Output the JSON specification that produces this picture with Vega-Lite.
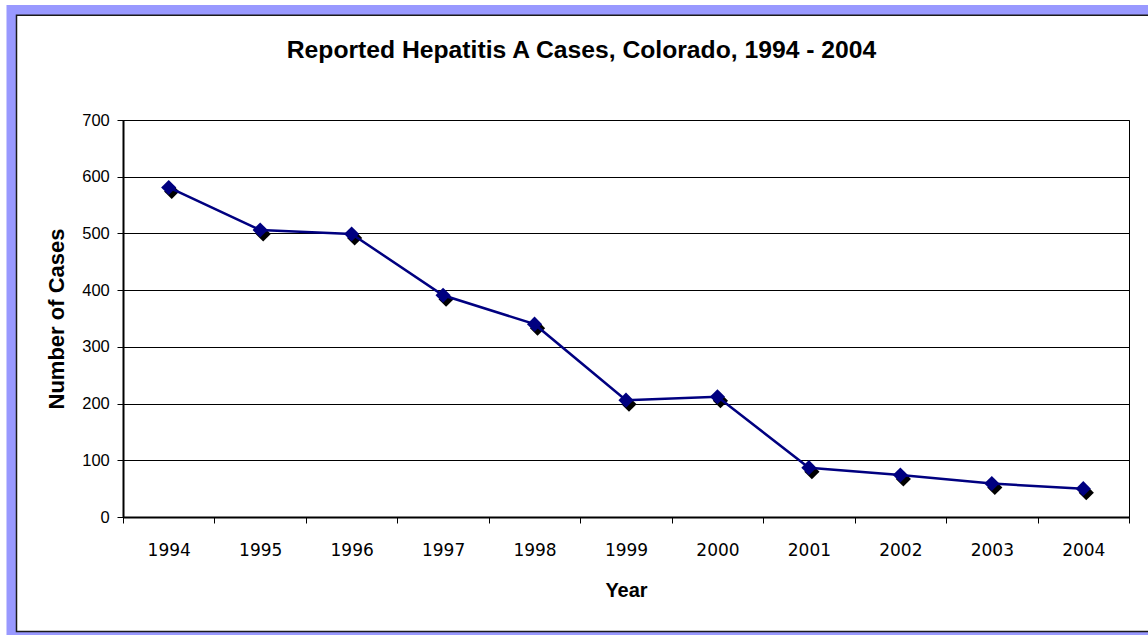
{
  "$schema": "https://vega.github.io/schema/vega-lite/v6.json",
  "width": 1006,
  "height": 397,
  "autosize": {"type": "none"},
  "padding": {"left": 123, "top": 120, "right": 19, "bottom": 118},
  "background": "white",
  "title": {
    "text": "Reported Hepatitis A Cases, Colorado, 1994 - 2004",
    "font": "Liberation Sans",
    "fontSize": 24.7,
    "fontWeight": "bold",
    "color": "black",
    "anchor": "middle",
    "frame": "group",
    "dx": -44.5,
    "offset": -58
  },
  "config": {
    "view": {"stroke": "black", "strokeWidth": 1, "fill": "white"}
  },
  "data": {
    "values": [
      {"year": 1994, "cases": 581},
      {"year": 1995, "cases": 506},
      {"year": 1996, "cases": 499},
      {"year": 1997, "cases": 391},
      {"year": 1998, "cases": 340},
      {"year": 1999, "cases": 206},
      {"year": 2000, "cases": 212},
      {"year": 2001, "cases": 87},
      {"year": 2002, "cases": 74},
      {"year": 2003, "cases": 59},
      {"year": 2004, "cases": 50}
    ]
  },
  "layer": [
    {
      "data": {"values": [{}]},
      "mark": {"type": "rect", "filled": false, "stroke": "#9999FF", "strokeWidth": 10, "clip": false},
      "encoding": {
        "x": {
          "datum": 1992.2808,
          "type": "quantitative",
          "scale": {"domain": [1993.5, 2004.5], "nice": false, "zero": false},
          "axis": {
            "title": "Year",
            "titleFont": "Liberation Sans",
            "titleFontSize": 20,
            "titleFontWeight": "bold",
            "titleColor": "black",
            "titlePadding": 22,
            "values": [1993.5, 1994.5, 1995.5, 1996.5, 1997.5, 1998.5, 1999.5, 2000.5, 2001.5, 2002.5, 2003.5, 2004.5],
            "labelExpr": "datum.value > 2004 ? '' : '' + (datum.value + 0.5)",
            "labelOffset": 45.73,
            "labelFlush": false,
            "labelOverlap": false,
            "labelFont": "DejaVu Sans",
            "labelFontSize": 17,
            "labelColor": "black",
            "labelPadding": 19.3,
            "tickSize": 6,
            "tickColor": "black",
            "tickWidth": 1,
            "domainColor": "black",
            "domainWidth": 2,
            "grid": false
          }
        },
        "x2": {"datum": 2010},
        "y": {
          "datum": 893.96,
          "type": "quantitative",
          "scale": {"domain": [0, 700], "nice": false, "zero": true},
          "axis": {
            "title": "Number of Cases",
            "titleFont": "Liberation Sans",
            "titleFontSize": 22,
            "titleFontWeight": "bold",
            "titleColor": "black",
            "titlePadding": 13,
            "values": [0, 100, 200, 300, 400, 500, 600, 700],
            "labelFont": "Liberation Sans",
            "labelFontSize": 16.5,
            "labelColor": "black",
            "labelPadding": 7.7,
            "tickSize": 6,
            "tickColor": "black",
            "tickWidth": 1,
            "domainColor": "black",
            "domainWidth": 2,
            "grid": true,
            "gridColor": "black",
            "gridWidth": 1
          }
        },
        "y2": {"datum": -211.59}
      }
    },
    {
      "data": {"values": [{}]},
      "mark": {"type": "rect", "filled": false, "stroke": "#1a1a1a", "strokeWidth": 1.5, "clip": false},
      "encoding": {
        "x": {"datum": 1992.3355, "type": "quantitative"},
        "x2": {"datum": 2010},
        "y": {"datum": 884.6, "type": "quantitative"},
        "y2": {"datum": -201.9}
      }
    },
    {
      "mark": {"type": "point", "shape": "diamond", "filled": true, "color": "black", "opacity": 1, "size": 230, "xOffset": 3, "yOffset": 4},
      "encoding": {
        "x": {"field": "year", "type": "quantitative"},
        "y": {"field": "cases", "type": "quantitative"}
      }
    },
    {
      "mark": {"type": "line", "color": "#000080", "strokeWidth": 2.5},
      "encoding": {
        "x": {"field": "year", "type": "quantitative"},
        "y": {"field": "cases", "type": "quantitative"}
      }
    },
    {
      "mark": {"type": "point", "shape": "diamond", "filled": true, "color": "#000080", "opacity": 1, "size": 230},
      "encoding": {
        "x": {"field": "year", "type": "quantitative"},
        "y": {"field": "cases", "type": "quantitative"}
      }
    }
  ]
}
